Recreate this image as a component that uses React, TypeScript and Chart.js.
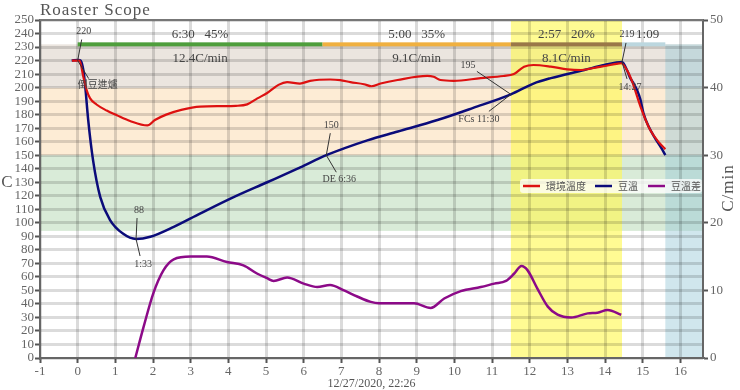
import React, { useEffect, useRef } from 'react';
import { Chart, registerables } from 'chart.js';

Chart.register(...registerables);

// ---------- data ----------
const envTime = [-0.15, 0.05, 0.15, 0.24, 0.33, 0.5, 0.77, 1.04, 1.39, 1.85, 2.05, 2.35, 2.75, 3.25, 3.8, 4.2, 4.5, 4.77, 5.03, 5.33, 5.56, 5.9, 6.17, 6.7, 6.97, 7.24, 7.6, 7.8, 8.04, 8.49, 9.28, 9.45, 9.63, 9.98, 10.7, 11.3, 11.58, 11.85, 12.1, 12.56, 13.0, 13.36, 13.7, 14.0, 14.3, 14.43, 14.6, 14.72, 14.94, 15.2, 15.45, 15.6];
const envTemp = [220, 220, 208, 198, 192, 187.5, 183, 179.5, 175.3, 172, 176, 180, 183.5, 186, 186.3, 186.5, 187.6, 192, 196, 202, 204, 203, 205, 206, 205.5, 204, 202.5, 201, 203, 205.6, 208.6, 208, 205.6, 205, 207, 208.6, 210, 215.5, 216.7, 215.5, 213.5, 213, 214.5, 216, 217.5, 218, 212, 204.4, 186, 168.6, 158.8, 154.4];

const beanTime = [-0.16, 0.02, 0.08, 0.15, 0.2, 0.28, 0.41, 0.6, 0.86, 1.2, 1.55, 1.93, 2.55, 3.26, 4.14, 5.03, 5.91, 6.6, 7.69, 8.5, 9.55, 10.5, 11.5, 12.1, 12.56, 13.45, 13.98, 14.45, 14.58, 14.67, 14.76, 14.85, 14.94, 15.02, 15.16, 15.33, 15.5, 15.6];
const beanTemp = [220, 220.5, 220, 213, 201, 176, 146, 119, 102, 92, 88, 89.7, 97, 107, 119, 130, 141, 150, 161, 167.5, 176, 185, 195, 203, 207, 213, 216.7, 219, 213, 207, 203, 198, 191, 181, 171, 162.5, 155, 150];

const rorTime = [1.53, 1.75, 2.01, 2.28, 2.55, 3.0, 3.43, 3.96, 4.4, 4.76, 5.03, 5.2, 5.56, 6.0, 6.36, 6.7, 7.07, 7.42, 7.78, 8.0, 8.93, 9.37, 9.73, 10.17, 10.7, 11.06, 11.37, 11.59, 11.78, 11.94, 12.2, 12.48, 12.74, 13.1, 13.54, 13.8, 14.07, 14.43];
const rorValue = [0, 4.6, 9.6, 13, 14.6, 15, 15, 14.2, 13.7, 12.5, 11.8, 11.4, 11.9, 11, 10.5, 10.8, 10, 9.1, 8.3, 8.1, 8.1, 7.4, 8.8, 9.9, 10.5, 11, 11.4, 12.5, 13.6, 13, 10.3, 7.6, 6.4, 6.0, 6.6, 6.7, 7.1, 6.4];

const seriesLabels = ['環境溫度', '豆溫', '豆溫差'];
const xTicks = [-1, 0, 1, 2, 3, 4, 5, 6, 7, 8, 9, 10, 11, 12, 13, 14, 15, 16];

const phaseStart = [0, 6.5, 11.5, 14.45];
const phaseEnd = [6.5, 11.5, 14.45, 15.6];
const phaseLabels = ['6:30   45%', '5:00   35%', '2:57   20%', '1:09'];
const phaseRates = ['12.4C/min', '9.1C/min', '8.1C/min', ''];
const phaseBarTemp = 232;

const bandLow = [94, 150, 200];
const bandHigh = [150, 200, 232];

const eventTime = [0, 1.55, 6.6, 11.5, 14.45];
const eventTemp = [220, 88, 150, 195, 219];
const eventTop = ['220', '88', '150', '195', '219'];
const eventBottom = ['倒豆進爐', '1:33', 'DE 6:36', 'FCs 11:30', '14:27'];

const titleText = 'Roaster Scope';
const dateText = '12/27/2020, 22:26';

// ---------- styles ----------
const SERIF = "'Liberation Serif', 'DejaVu Serif', serif";
const CJK = "'Noto Sans CJK TC', 'Noto Sans CJK SC', sans-serif";
const colors = ['#dd1111', '#0b0b7a', '#8c0a88'];
const phaseColors = ['#4e9e3c', '#f0b040', '#9a7848', '#bcd7df'];
const bandColors = ['#d9ebd8', '#fdecd5', '#ebe5df'];
// pixel offsets of annotation labels [topLabelDx, topLabelDy, topLineDx, topLineDy, botLabelDx, botLabelDy, botLineDx, botLineDy]
const eventOffsets = [
  [6, -29, 4, -21, 20, 24, 11, 18],
  [3, -29, 1, -21, 7, 25, 4, 17],
  [5, -30, 4, -22, 13, 24, 10, 17],
  [-43, -29, -34, -23, -32, 25, -22, 17],
  [5, -28, 4, -19, 8, 25, 5, 17],
];

const decorPlugin = {
  id: 'decor',
  beforeDraw(chart: any) {
    const { ctx, chartArea: a, scales } = chart;
    const x = scales.x, y = scales.y;
    ctx.save();
    ctx.fillStyle = '#ffffff';
    ctx.fillRect(0, 0, chart.width, chart.height);
    bandColors.forEach((c, i) => {
      const t = y.getPixelForValue(bandHigh[i]);
      const b = y.getPixelForValue(bandLow[i]);
      ctx.fillStyle = c;
      ctx.fillRect(a.left, t, a.right - a.left, b - t);
    });
    // development (yellow) band
    const x1 = x.getPixelForValue(phaseStart[2]);
    const x2 = x.getPixelForValue(phaseEnd[2]);
    ctx.fillStyle = 'rgba(255,248,80,0.62)';
    ctx.fillRect(x1, a.top, x2 - x1, a.bottom - a.top);
    // cooling (blue) band
    const x3 = x.getPixelForValue(phaseEnd[3]);
    const yt = y.getPixelForValue(phaseBarTemp);
    ctx.fillStyle = 'rgba(150,200,215,0.45)';
    ctx.fillRect(x3, yt, a.right - x3, a.bottom - yt);
    ctx.restore();
  },
  beforeDatasetsDraw(chart: any) {
    const { ctx, chartArea: a, scales } = chart;
    const x = scales.x, y = scales.y;
    ctx.save();
    const yb = y.getPixelForValue(phaseBarTemp);
    phaseStart.forEach((s, i) => {
      const xs = x.getPixelForValue(s);
      const xe = x.getPixelForValue(phaseEnd[i]);
      ctx.fillStyle = phaseColors[i];
      ctx.fillRect(xs, yb - 2, xe - xs, 4);
    });
    // top border
    ctx.strokeStyle = '#777';
    ctx.lineWidth = 2;
    ctx.beginPath();
    ctx.moveTo(a.left, a.top);
    ctx.lineTo(a.right, a.top);
    ctx.stroke();
    ctx.restore();
  },
  afterDatasetsDraw(chart: any) {
    const { ctx, chartArea: a, scales } = chart;
    const x = scales.x, y = scales.y;
    ctx.save();
    // phase labels
    ctx.fillStyle = '#444';
    ctx.textAlign = 'center';
    ctx.textBaseline = 'middle';
    ctx.font = `13px ${SERIF}`;
    const yb = y.getPixelForValue(phaseBarTemp);
    phaseStart.forEach((s, i) => {
      const xm = (x.getPixelForValue(s) + x.getPixelForValue(phaseEnd[i])) / 2;
      ctx.fillText(phaseLabels[i], i === 3 ? xm + 4 : xm, yb - 10);
      if (phaseRates[i]) ctx.fillText(phaseRates[i], xm, yb + 14);
    });
    // event annotations
    ctx.strokeStyle = '#333';
    ctx.lineWidth = 1;
    eventTime.forEach((t, i) => {
      const px = x.getPixelForValue(t);
      const py = y.getPixelForValue(eventTemp[i]);
      const o = eventOffsets[i];
      ctx.beginPath();
      ctx.moveTo(px + o[2], py + o[3]);
      ctx.lineTo(px, py);
      ctx.lineTo(px + o[6], py + o[7]);
      ctx.stroke();
      ctx.fillStyle = '#444';
      ctx.font = `10px ${SERIF}`;
      ctx.fillText(eventTop[i], px + o[0], py + o[1]);
      ctx.font = /[\u4e00-\u9fff]/.test(eventBottom[i]) ? `10px ${CJK}` : `10px ${SERIF}`;
      ctx.fillText(eventBottom[i], px + o[4], py + o[5]);
    });
    // legend
    const lw = 182, lh = 14;
    const lx = a.right - lw - 1, ly = a.top + 159;
    ctx.fillStyle = 'rgba(255,255,255,0.75)';
    ctx.beginPath();
    (ctx as any).roundRect(lx, ly, lw, lh, 3);
    ctx.fill();
    const itemX = [3, 75, 128];
    chart.data.datasets.forEach((ds: any, i: number) => {
      const ix = lx + itemX[i];
      const cy = ly + lh / 2;
      ctx.strokeStyle = ds.borderColor;
      ctx.lineWidth = 2.5;
      ctx.beginPath();
      ctx.moveTo(ix, cy);
      ctx.lineTo(ix + 17, cy);
      ctx.stroke();
      ctx.fillStyle = '#555';
      ctx.font = `10px ${CJK}`;
      ctx.textAlign = 'left';
      ctx.fillText(ds.label, ix + 23, cy);
    });
    // titles
    ctx.fillStyle = '#555';
    ctx.textAlign = 'left';
    ctx.textBaseline = 'alphabetic';
    ctx.font = `17px ${SERIF}`;
    (ctx as any).letterSpacing = '1px';
    ctx.fillText(titleText, a.left, 15);
    (ctx as any).letterSpacing = '0px';
    ctx.font = `12px ${SERIF}`;
    ctx.textAlign = 'center';
    ctx.fillText(dateText, (a.left + a.right) / 2, 387);
    ctx.font = `17px ${SERIF}`;
    ctx.textBaseline = 'middle';
    ctx.fillText('C', 7, 183);
    ctx.save();
    ctx.translate(729, 188);
    ctx.rotate(-Math.PI / 2);
    (ctx as any).letterSpacing = '1px';
    ctx.fillText('C/min', 0, 0);
    ctx.restore();
    ctx.restore();
  },
};

export default function App() {
  const ref = useRef<HTMLCanvasElement | null>(null);
  useEffect(() => {
    document.body.style.margin = '0';
    document.body.style.overflow = 'hidden';
    const canvas = ref.current!;
    const gridColor = 'rgba(0,0,0,0.14)';
    const chart = new Chart(canvas, {
      type: 'line',
      data: {
        datasets: [
          {
            label: seriesLabels[0],
            data: envTime.map((t, i) => ({ x: t, y: envTemp[i] })),
            borderColor: colors[0],
            borderWidth: 2.2,
            pointRadius: 0,
            cubicInterpolationMode: 'monotone',
            yAxisID: 'y',
          },
          {
            label: seriesLabels[1],
            data: beanTime.map((t, i) => ({ x: t, y: beanTemp[i] })),
            borderColor: colors[1],
            borderWidth: 2.5,
            pointRadius: 0,
            cubicInterpolationMode: 'monotone',
            yAxisID: 'y',
          },
          {
            label: seriesLabels[2],
            data: rorTime.map((t, i) => ({ x: t, y: rorValue[i] })),
            borderColor: colors[2],
            borderWidth: 2.5,
            pointRadius: 0,
            cubicInterpolationMode: 'monotone',
            yAxisID: 'y1',
          },
        ],
      },
      options: {
        animation: false,
        responsive: false,
        devicePixelRatio: 1,
        layout: { padding: { top: 20, left: 0, right: 0, bottom: 0 } },
        plugins: { legend: { display: false }, tooltip: { enabled: false } },
        scales: {
          x: {
            type: 'linear',
            min: -1,
            max: 16.6,
            afterBuildTicks: (s: any) => {
              s.ticks = xTicks.map((v) => ({ value: v }));
            },
            afterFit: (s: any) => {
              s.height = 32;
            },
            grid: { color: gridColor, lineWidth: 3, tickLength: 5, tickColor: '#555', tickWidth: 2 } as any,
            border: { color: '#666', width: 2 },
            ticks: { color: '#666', font: { family: SERIF, size: 13 }, padding: 1, maxRotation: 0, autoSkip: false },
          },
          y: {
            position: 'left',
            min: 0,
            max: 250,
            afterFit: (s: any) => {
              s.width = 40;
            },
            grid: { color: gridColor, lineWidth: 3, tickLength: 5, tickColor: '#555', tickWidth: 2 } as any,
            border: { color: '#666', width: 2 },
            ticks: { stepSize: 10, color: '#666', font: { family: SERIF, size: 13, lineHeight: 1 }, padding: 1, autoSkip: false },
          },
          y1: {
            position: 'right',
            min: 0,
            max: 50,
            afterFit: (s: any) => {
              s.width = 37;
            },
            grid: { drawOnChartArea: false, tickLength: 5, tickColor: '#555', tickWidth: 2 } as any,
            border: { color: '#666', width: 2 },
            ticks: { stepSize: 10, color: '#666', font: { family: SERIF, size: 13 }, padding: 2, autoSkip: false },
          },
        },
      } as any,
      plugins: [decorPlugin],
    });
    return () => chart.destroy();
  }, []);
  return (
    <div style={{ width: 740, height: 390 }}>
      <canvas ref={ref} width={740} height={390} style={{ display: 'block' }} />
    </div>
  );
}
